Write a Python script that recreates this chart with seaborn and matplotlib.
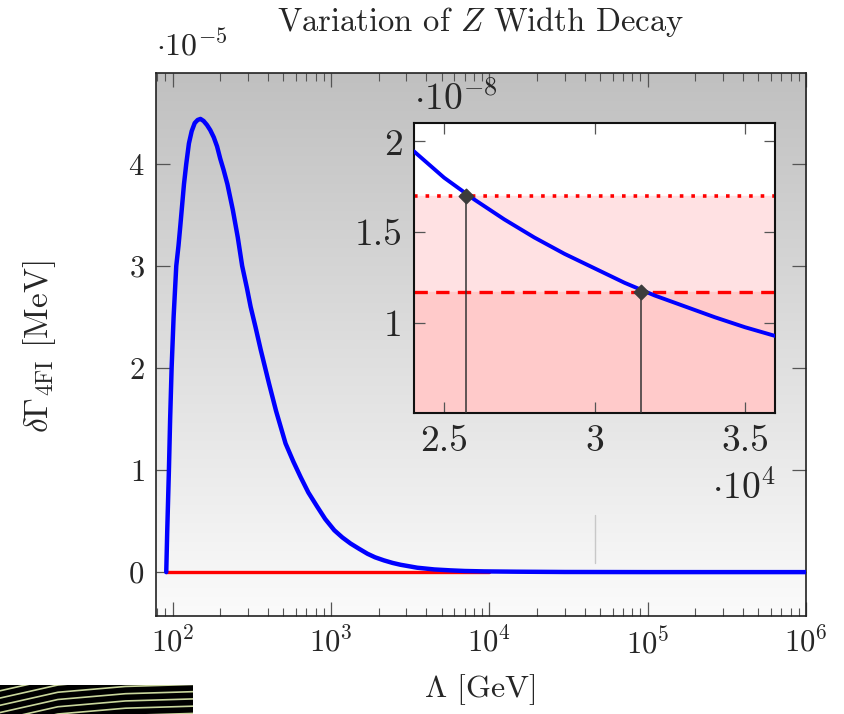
import matplotlib
matplotlib.use('Agg')
import matplotlib.pyplot as plt
import seaborn as sns
import numpy as np
from matplotlib.colors import LinearSegmentedColormap

# main curve: Lambda [GeV] vs delta Gamma_4FI [1e-5 MeV]
lam = [91.2, 92.5, 94.8, 96.5, 98.6, 101.5, 105.5, 109, 112, 118, 122, 126.8, 132, 138,
       144, 150, 157, 165, 173, 182, 191, 200, 210, 222, 240, 258, 275, 295, 311, 334,
       360, 406, 450, 517, 580, 644, 720, 820, 920, 1050, 1180, 1330, 1500, 1700, 1900,
       2160, 2450, 2750, 3510, 4500, 5700, 7000, 9270, 1.5e4, 3.0e4, 1.0e5, 1.0e6]
dgamma = [0.0, 0.4, 1.0, 1.5, 2.0, 2.5, 3.0, 3.2, 3.4, 3.8, 4.0, 4.2, 4.32, 4.40,
          4.43, 4.44, 4.42, 4.38, 4.33, 4.26, 4.17, 4.05, 3.94, 3.80, 3.55, 3.28, 3.00,
          2.78, 2.60, 2.40, 2.18, 1.85, 1.58, 1.26, 1.08, 0.93, 0.78, 0.64, 0.52, 0.41,
          0.34, 0.28, 0.23, 0.18, 0.145, 0.115, 0.09, 0.072, 0.043, 0.026, 0.017, 0.011,
          0.007, 0.004, 0.0012, 0.0001, 0.0]
red_lam = [91.2, 1.0e4]
red_val = [0.0, 0.0]
mark_lam = [4.66e4, 4.66e4]
mark_val = [0.085, 0.555]
xticks_main = [1e2, 1e3, 1e4, 1e5, 1e6]
yticks_main = [0, 1, 2, 3, 4]

# inset: Lambda [1e4 GeV] vs delta Gamma [1e-8 MeV]
ins_lam = [2.40, 2.50, 2.60, 2.70, 2.80, 2.90, 3.00, 3.10, 3.20, 3.30, 3.40, 3.50, 3.60]
ins_val = [1.945, 1.80, 1.68, 1.57, 1.47, 1.38, 1.30, 1.22, 1.15, 1.09, 1.03, 0.975, 0.927]
limit_dotted = 1.70
limit_dashed = 1.172
cross_lam = [2.574, 3.153]
cross_val = [1.70, 1.172]
ins_xticks = [2.5, 3.0, 3.5]
ins_xlabels = ['2.5', '3', '3.5']
ins_yticks = [1.0, 1.5, 2.0]
ins_ylabels = ['1', '1.5', '2']

sns.set_style('ticks')
plt.rcParams['font.family'] = ['cmr10', 'DejaVu Serif']
plt.rcParams['mathtext.fontset'] = 'cm'
plt.rcParams['axes.formatter.use_mathtext'] = True
plt.rcParams['axes.unicode_minus'] = False

fig = plt.figure(figsize=(8.44, 7.14), dpi=100)
W, H = 844, 714
ax = fig.add_axes([155.5 / W, 1 - 616 / H, (806 - 155.5) / W, (616 - 73) / H])

# gray gradient background
grad = np.linspace(0, 1, 256).reshape(-1, 1)
cmap = LinearSegmentedColormap.from_list('bg', ['#fbfbfb', '#c0c0c0'])
ax.imshow(grad, extent=[0, 1, 0, 1], transform=ax.transAxes, aspect='auto',
          cmap=cmap, origin='lower', zorder=0)

sns.lineplot(x=red_lam, y=red_val, ax=ax, color='#ff0000', lw=2.4, zorder=2)
sns.lineplot(x=lam, y=dgamma, ax=ax, color='#0000ff', lw=3.2, zorder=3)
ax.plot(mark_lam, mark_val, color='#c8c8c8', lw=1.0, zorder=1)

ax.set_xscale('log')
ax.set_xlim(78, 1e6)
ax.set_ylim(-0.43, 4.89)
ax.set_xticks(xticks_main)
ax.set_yticks(yticks_main)
ax.set_xlabel('')
ax.set_ylabel('')
ax.tick_params(which='major', direction='in', length=10, width=0.9, color='#555555',
               top=True, right=True, labelsize=22, pad=8)
ax.tick_params(which='minor', direction='in', length=5.5, width=0.8, color='#555555',
               top=True, right=True)
for s in ax.spines.values():
    s.set_linewidth(1.2)
    s.set_color('#222222')

ax.text(0.0, 1.02, r'$\cdot 10^{-5}$', transform=ax.transAxes, ha='left', va='bottom',
        fontsize=23)
fig.text(480.7 / W, 1 - 22 / H, 'Variation of $Z$ Width Decay', ha='center', va='center',
         fontsize=23.5)
fig.text(40 / W, 1 - 347 / H, r'$\delta\Gamma_{\mathrm{4FI}}$ [MeV]', rotation=90,
         ha='center', va='center', fontsize=24)
fig.text(480 / W, 1 - 690 / H, r'$\Lambda$ [GeV]', ha='center', va='center', fontsize=23)

# inset
ax2 = fig.add_axes([414 / W, 1 - 413.3 / H, (775 - 414) / W, (413.3 - 123.3) / H])
ax2.set_facecolor('white')
ax2.axhspan(limit_dashed, limit_dotted, color='#ffe1e3', zorder=0)
ax2.axhspan(0.5, limit_dashed, color='#ffcaca', zorder=0)
ax2.axhline(limit_dotted, color='#ff0000', lw=2.6, ls=(0, (1, 2.2)), zorder=2)
ax2.axhline(limit_dashed, color='#ff0000', lw=2.4, ls=(0, (4, 2.5)), zorder=2)
ax2.vlines(cross_lam, 0.5, cross_val, color='#333333', lw=1.1, zorder=3)
sns.lineplot(x=ins_lam, y=ins_val, ax=ax2, color='#0000ff', lw=2.8, zorder=4)
ax2.scatter(cross_lam, cross_val, marker='D', s=55, color='#3c3c3c', zorder=5)
ax2.set_xlim(2.4, 3.6)
ax2.set_ylim(0.5, 2.1)
ax2.set_xticks(ins_xticks, ins_xlabels)
ax2.set_yticks(ins_yticks, ins_ylabels)
ax2.set_xlabel('')
ax2.set_ylabel('')
ax2.tick_params(direction='in', length=8, width=0.9, color='#555555', top=True, right=True,
                labelsize=27, pad=8)
for s in ax2.spines.values():
    s.set_linewidth(1.5)
    s.set_color('#111111')
ax2.text(0.0, 1.02, r'$\cdot 10^{-8}$', transform=ax2.transAxes, ha='left', va='bottom',
         fontsize=27)
fig.text(776 / W, 1 - 488 / H, r'$\cdot 10^{4}$', ha='right', va='center', fontsize=27)

# stray striped strip at bottom-left
ax3 = fig.add_axes([0, 0, 193 / W, 29 / H])
ax3.set_facecolor('black')
stripe_start = [-1.2, -0.95, -0.7, -0.45, -0.2, 0.05, 0.3, 0.55, 0.8]
for y0 in stripe_start:
    ax3.plot([0, 0.3, 0.65, 1], [y0, y0 + 0.45, y0 + 0.65, y0 + 0.72], color='#c9d69c', lw=1.2)
ax3.set_xlim(0, 1)
ax3.set_ylim(0, 1)
ax3.set_xticks([])
ax3.set_yticks([])
for s in ax3.spines.values():
    s.set_visible(False)

fig.savefig('out.png', dpi=100)
